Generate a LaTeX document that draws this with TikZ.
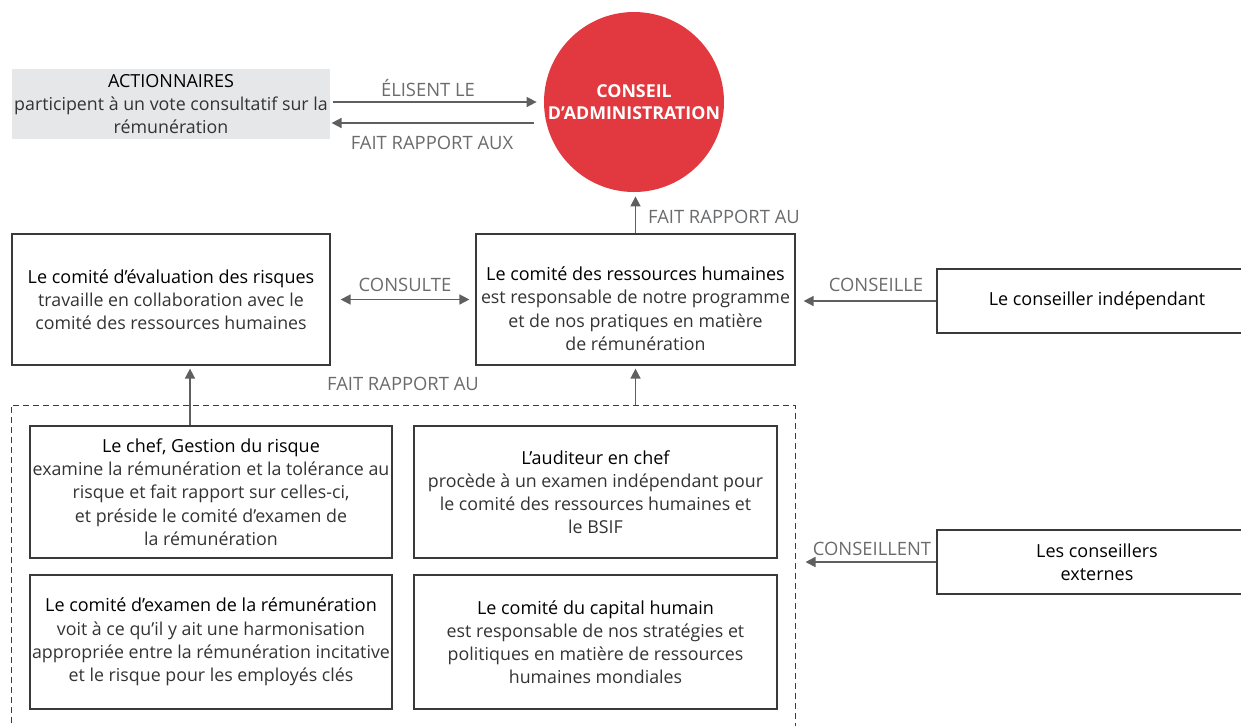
\documentclass[tikz,border=0pt]{standalone}
\usepackage{fontspec}
\setmainfont{Open Sans}
\usetikzlibrary{arrows.meta,calc}

\definecolor{rougeca}{HTML}{E1393F}
\definecolor{grisfl}{HTML}{5E5F61}
\definecolor{grisfond}{HTML}{E6E7E8}
\definecolor{grisetiq}{HTML}{6A6B6D}
\definecolor{trait}{HTML}{3A3A3C}

\newcommand\titre[1]{{\fontsize{9.0}{11.6}\selectfont\color{black}#1}}

\tikzset{
    boite/.style={draw=trait, line width=0.6pt, align=center, inner sep=0pt,
        text=black!80, font=\fontsize{8.9}{11.6}\selectfont},
    fleche/.style={draw=grisfl, line width=0.8pt, -{Triangle[length=5pt,width=5pt]}},
    etiq/.style={text=grisetiq, font=\fontsize{9.2}{10}\selectfont, inner sep=0pt},
}

\begin{document}
\begin{tikzpicture}[x=0.5pt,y=-0.5pt]
                \useasboundingbox (0,0) rectangle (1241,725);

                % Haut : actionnaires et conseil
                \node[boite, draw=none, fill=grisfond, minimum width=159pt, minimum height=35pt]
                    (act) at (171,104) {\titre{ACTIONNAIRES}\\participent à un vote consultatif sur la\\rémunération};
                \node[circle, fill=rougeca, minimum size=90pt, inner sep=0pt, align=center,
                    text=white, font=\bfseries\fontsize{8.9}{10.8}\selectfont]
                    (cercle) at (634,102) {CONSEIL\\D’ADMINISTRATION};

                % Comités
                \node[boite, minimum width=159pt, minimum height=65.5pt] (risques) at (171,299.5)
                    {\titre{Le comité d’évaluation des risques}\\travaille en collaboration avec le\\comité des ressources humaines};
                \node[boite, minimum width=159.5pt, minimum height=65.5pt] (rh) at (635.5,299.5)
                    {\rule{0pt}{16pt}\titre{Le comité des ressources humaines}\\est responsable de notre programme\\et de nos pratiques en matière\\de rémunération};
                \node[boite, minimum width=160pt, minimum height=32pt] (indep) at (1097,301)
                    {\titre{Le conseiller indépendant}};

                % Cadre pointillé et ses boîtes
                \node[draw=trait, line width=0.5pt, dash pattern=on 3pt off 2pt, inner sep=0pt,
                    minimum width=392pt, minimum height=170pt] (equipe) at (403,575) {};
                \node[boite, minimum width=181pt, minimum height=66pt] (chef) at (211,492)
                    {\titre{Le chef, Gestion du risque}\\examine la rémunération et la tolérance au\\risque et fait rapport sur celles-ci,\\et préside le comité d’examen de\\la rémunération};
                \node[boite, minimum width=181.5pt, minimum height=66pt] (auditeur) at (595.5,492)
                    {\titre{L’auditeur en chef}\\procède à un examen indépendant pour\\le comité des ressources humaines et\\le BSIF};
                \node[boite, minimum width=181pt, minimum height=67pt] (examen) at (211,642)
                    {\titre{Le comité d’examen de la rémunération}\\voit à ce qu’il y ait une harmonisation\\appropriée entre la rémunération incitative\\et le risque pour les employés clés};
                \node[boite, minimum width=181.5pt, minimum height=67pt] (capital) at (595.5,642)
                    {\titre{Le comité du capital humain}\\est responsable de nos stratégies et\\politiques en matière de ressources\\humaines mondiales};
                \node[boite, minimum width=160pt, minimum height=32pt] (externes) at (1097,562)
                    {\titre{Les conseillers}\\\titre{externes}};

                % Flèches
                \draw[fleche] ($(act.east)+(2,-2)$) -- ($(cercle.west)+(-7,0)$);
                \draw[fleche] ($(cercle.west)+(-10,21)$) -- ($(act.east)+(1,19)$);
                \draw[fleche] (rh.north) -- ($(rh.north |- cercle.south)+(0,4)$);
                \draw[fleche, {Triangle[length=5pt,width=5pt]}-{Triangle[length=5pt,width=5pt]}]
                    ($(risques.east)+(10,0)$) -- ($(rh.west)+(-6,0)$);
                \draw[fleche] (indep.west) -- ($(indep.west -| rh.east)+(8,0)$);
                \draw[fleche] (externes.west) -- ($(externes.west -| equipe.east)+(10,0)$);
                \coordinate (depart) at ($(chef.north)+(-21,0)$);
                \draw[fleche] (depart) -- ($(depart |- risques.south)+(0,3)$);
                \draw[fleche] (equipe.north -| rh.south) -- ($(rh.south)+(0,3)$);

                % Étiquettes
                \node[etiq] (l-elisent) at (428,88) {ÉLISENT LE};
                \node[etiq] (l-rapportaux) at (432,143) {FAIT RAPPORT AUX};
                \node[etiq] (l-rapportca) at (724,217) {FAIT RAPPORT AU};
                \node[etiq] (l-consulte) at (405,285) {CONSULTE};
                \node[etiq] (l-conseille) at (876,285) {CONSEILLE};
                \node[etiq] (l-rapportrh) at (403,384) {FAIT RAPPORT AU};
                \node[etiq] (l-conseillent) at (872,549) {CONSEILLENT};
\end{tikzpicture}
\end{document}
